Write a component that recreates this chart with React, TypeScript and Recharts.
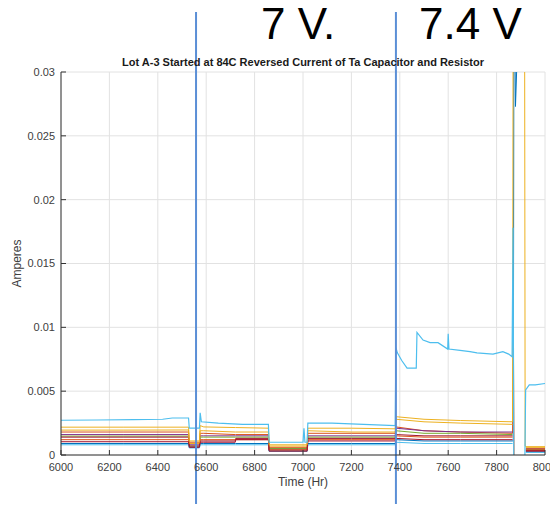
import React from "react";
import {
  LineChart,
  Line,
  XAxis,
  YAxis,
  CartesianGrid,
  ReferenceLine,
} from "recharts";

// Shared time breakpoints (hours) for the flat current bands.
const TIMES = [
  6000, 6260, 6527, 6530, 6572, 6575, 6590, 6720, 6722, 6857, 6860, 7017,
  7020, 7200, 7381, 7384, 7500, 7650, 7866, 7869, 7872, 7878, 7888, 7915,
  7918, 7921, 8000,
];

// Band currents (A), one value per TIMES entry. null = gap.
const BLUE = [
  0.0009, 0.0009, 0.0009, 0.0006, 0.0006, 0.0009, 0.0009, 0.0009, 0.0009,
  0.0009, 0.0003, 0.0003, 0.0009, 0.0009, 0.0009, 0.0012, 0.0011, 0.0011,
  0.0011, 0.0011, 0.04, 0.0273, 0.033, null, null, 0.00025, 0.00025,
];
const ORANGE_1 = [
  0.0018, 0.0018, 0.0018, 0.001, 0.001, 0.0017, 0.0017, 0.0016, 0.0016,
  0.0016, 0.0006, 0.0006, 0.0017, 0.0017, 0.0017, 0.0022, 0.0019, 0.0018,
  0.0017, 0.0103, 0, null, null, null, null, 0.0005, 0.0005,
];
const YELLOW_1 = [
  0.00218, 0.00218, 0.00218, 0.0011, 0.0011, 0.0023, 0.0022, 0.00215,
  0.00215, 0.0021, 0.0008, 0.0008, 0.0021, 0.0021, 0.00205, 0.003, 0.0028,
  0.0027, 0.0026, 0.045, 0.045, 0.045, 0.045, 0.045, 0.0007, 0.00065,
  0.00065,
];
const PURPLE = [
  0.0016, 0.0016, 0.0016, 0.0008, 0.0008, 0.0015, 0.0015, 0.0015, 0.0015,
  0.0015, 0.0005, 0.0005, 0.0015, 0.0015, 0.0015, 0.0021, 0.0019, 0.0018,
  0.0018, null, null, null, null, null, null, 0.00045, 0.00045,
];
const GREEN = [
  0.00148, 0.00148, 0.00148, 0.0007, 0.0007, 0.0014, 0.0014, 0.0014, 0.0014,
  0.0014, 0.0005, 0.0005, 0.0014, 0.0014, 0.0014, 0.0019, 0.0017, 0.0017,
  0.0016, null, null, null, null, null, null, 0.0004, 0.0004,
];
const LIGHT_BLUE_2 = [
  0.0008, 0.0008, 0.0008, 0.00055, 0.00055, 0.0008, 0.0008, 0.0008, 0.0008,
  0.0008, 0.0003, 0.0003, 0.0008, 0.0008, 0.0008, 0.001, 0.0009, 0.0009,
  0.0009, null, null, null, null, null, null, 0.0002, 0.0002,
];
const DARK_RED_1 = [
  0.0014, 0.0014, 0.0014, 0.0006, 0.0006, 0.0011, 0.0011, 0.0011, 0.0013,
  0.0013, 0.0004, 0.0004, 0.0013, 0.0013, 0.0013, 0.0016, 0.0015, 0.0015,
  0.0015, null, null, null, null, null, null, 0.00035, 0.00035,
];
const ORANGE_2 = [
  0.0012, 0.0012, 0.0012, 0.0009, 0.0009, 0.0012, 0.0012, 0.0012, 0.0012,
  0.0012, 0.0004, 0.0004, 0.0012, 0.0012, 0.0012, 0.0015, 0.0014, 0.0014,
  0.0014, null, null, null, null, null, null, 0.0004, 0.0004,
];
const YELLOW_2 = [
  0.00195, 0.00195, 0.00196, 0.0009, 0.0009, 0.0019, 0.0019, 0.0018, 0.0018,
  0.0018, 0.0007, 0.0007, 0.0019, 0.0018, 0.0018, 0.0028, 0.0026, 0.0025,
  0.0024, null, null, null, null, null, null, 0.0006, 0.0006,
];
const DARK_RED_2 = [
  0.00104, 0.00104, 0.00104, 0.0007, 0.0007, 0.001, 0.001, 0.001, 0.0012,
  0.0012, 0.0003, 0.0003, 0.0011, 0.0011, 0.0011, 0.0013, 0.0012, 0.0012,
  0.0012, null, null, null, null, null, null, 0.0003, 0.0003,
];

// The leaky part (light blue trace) with its own sample times.
const LB_TIMES = [
  6000, 6150, 6300, 6420, 6460, 6527, 6530, 6572, 6575, 6580, 6650, 6750,
  6800, 6857, 6860, 7000, 7004, 7008, 7017, 7020, 7120, 7250, 7381, 7384,
  7390, 7408, 7430, 7468, 7471, 7496, 7525, 7558, 7598, 7600, 7603, 7649,
  7690, 7719, 7785, 7826, 7850, 7864, 7868, 7871, 7890, 7917, 7920, 7935,
  7960, 8000,
];
const LB_VALUES = [
  0.00272, 0.00274, 0.00277, 0.0028, 0.0029, 0.0029, 0.0021, 0.0021, 0.0033,
  0.0026, 0.0025, 0.0024, 0.0024, 0.0024, 0.001, 0.001, 0.0021, 0.001, 0.001,
  0.0025, 0.0025, 0.0024, 0.0023, 0.0084, 0.008, 0.0074, 0.0068, 0.0068,
  0.0096, 0.009, 0.0088, 0.0088, 0.0083, 0.0095, 0.0083, 0.0082, 0.0081,
  0.008, 0.0079, 0.0081, 0.0079, 0.0077, 0.0178, 0, null, 0, 0.0051, 0.0055,
  0.0055, 0.0056,
];

const X_TICKS = [6000, 6200, 6400, 6600, 6800, 7000, 7200, 7400, 7600, 7800, 8000];
const Y_TICKS = [0, 0.005, 0.01, 0.015, 0.02, 0.025, 0.03];
const VOLTAGE_STEPS = [6558, 7384];

const BANDS = [
  { key: "blue", values: BLUE, color: "#0072BD" },
  { key: "orange1", values: ORANGE_1, color: "#D95319" },
  { key: "purple", values: PURPLE, color: "#7E2F8E" },
  { key: "green", values: GREEN, color: "#77AC30" },
  { key: "lightBlue2", values: LIGHT_BLUE_2, color: "#4DBEEE" },
  { key: "darkRed1", values: DARK_RED_1, color: "#A2142F" },
  { key: "orange2", values: ORANGE_2, color: "#D95319" },
  { key: "yellow2", values: YELLOW_2, color: "#EDB120" },
  { key: "darkRed2", values: DARK_RED_2, color: "#A2142F" },
  { key: "yellow1", values: YELLOW_1, color: "#EDB120" },
];

const bandData = TIMES.map((t, i) => {
  const row: Record<string, number | null> = { t };
  BANDS.forEach((b) => (row[b.key] = b.values[i]));
  return row;
});

const lbData = LB_TIMES.map((t, i) => ({ t, v: LB_VALUES[i] }));

const FONT = "'Liberation Sans', Arial, Helvetica, sans-serif";
const tickStyle = { fill: "#404040", fontSize: 11, fontFamily: FONT };

const fmtY = (v: number) => (v === 0 ? "0" : String(Number(v.toFixed(3))));

// annotation line that runs past the plot box, above and below
const StepLine = (p: any) => {
  const top = Math.min(p.y1, p.y2);
  const bottom = Math.max(p.y1, p.y2);
  return (
    <line
      x1={p.x1}
      x2={p.x2}
      y1={top - 60}
      y2={bottom + 49}
      stroke="#5b8fd6"
      strokeWidth={2}
    />
  );
};

export default function App() {
  return (
    <div
      style={{
        position: "absolute",
        left: 0,
        top: 0,
        width: 550,
        height: 508,
        overflow: "hidden",
        background: "#fff",
        fontFamily: FONT,
      }}
    >
      <LineChart
        width={550}
        height={508}
        margin={{ top: 72, right: 5, bottom: 23, left: 0 }}
      >
        <CartesianGrid stroke="#e2e2e2" strokeWidth={1} />
        <XAxis
          dataKey="t"
          type="number"
          domain={[6000, 8000]}
          ticks={X_TICKS}
          allowDataOverflow
          height={30}
          stroke="#333"
          tickSize={-5}
          tickMargin={13}
          tick={tickStyle}
          interval={0}
          label={{
            value: "Time (Hr)",
            position: "bottom",
            offset: -8,
            fill: "#404040",
            fontSize: 12,
            fontFamily: FONT,
          }}
        />
        <XAxis
          xAxisId="top"
          orientation="top"
          type="number"
          domain={[6000, 8000]}
          ticks={X_TICKS}
          height={0}
          stroke="#333"
          tickSize={-5}
          tick={false}
        />
        <YAxis
          type="number"
          domain={[0, 0.03]}
          ticks={Y_TICKS}
          allowDataOverflow
          width={61}
          stroke="#333"
          tickSize={-5}
          tickMargin={11}
          tick={tickStyle}
          tickFormatter={fmtY}
          interval={0}
          label={{
            value: "Amperes",
            angle: -90,
            position: "insideLeft",
            offset: 17,
            fill: "#404040",
            fontSize: 12,
            fontFamily: FONT,
            style: { textAnchor: "middle" },
          }}
        />
        <YAxis
          yAxisId="right"
          orientation="right"
          type="number"
          domain={[0, 0.03]}
          ticks={Y_TICKS}
          width={0}
          stroke="#333"
          tickSize={-5}
          tick={false}
        />
        {BANDS.map((b) => (
          <Line
            key={b.key}
            data={bandData}
            dataKey={b.key}
            type="linear"
            stroke={b.color}
            strokeWidth={1}
            dot={false}
            activeDot={false}
            isAnimationActive={false}
          />
        ))}
        <Line
          data={lbData}
          dataKey="v"
          type="linear"
          stroke="#4DBEEE"
          strokeWidth={1.2}
          dot={false}
          activeDot={false}
          isAnimationActive={false}
        />
        {VOLTAGE_STEPS.map((x) => (
          <ReferenceLine key={x} x={x} ifOverflow="visible" shape={StepLine} />
        ))}
      </LineChart>

      <div
        style={{
          position: "absolute",
          left: 61,
          width: 484,
          top: 56,
          lineHeight: "13px",
          fontSize: 11,
          fontWeight: 700,
          textAlign: "center",
          color: "#1a1a1a",
          whiteSpace: "nowrap",
        }}
      >
        Lot A-3 Started at 84C Reversed Current of Ta Capacitor and Resistor
      </div>
      <div
        style={{
          position: "absolute",
          left: 261,
          top: 2,
          fontSize: 44,
          lineHeight: "44px",
          color: "#000",
          whiteSpace: "nowrap",
        }}
      >
        7 V.
      </div>
      <div
        style={{
          position: "absolute",
          left: 419,
          top: 2,
          fontSize: 44,
          lineHeight: "44px",
          color: "#000",
          whiteSpace: "nowrap",
        }}
      >
        7.4 V
      </div>
    </div>
  );
}
